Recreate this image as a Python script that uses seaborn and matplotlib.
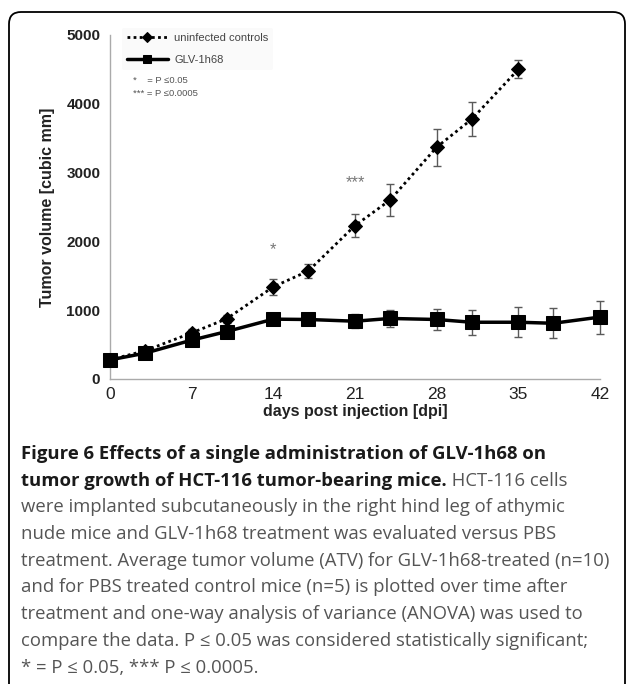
import matplotlib
matplotlib.use('Agg')
import matplotlib.pyplot as plt
from matplotlib.patches import FancyBboxPatch
import seaborn as sns

# values (mean tumor volume, cubic mm, +/- error)
ctrl_days = [0, 3, 7, 10, 14, 17, 21, 24, 28, 31, 35]
ctrl_vol = [280, 410, 670, 875, 1340, 1570, 2230, 2600, 3370, 3775, 4500]
ctrl_err = [30, 40, 50, 60, 120, 105, 165, 230, 270, 245, 130]

glv_days = [0, 3, 7, 10, 14, 17, 21, 24, 28, 31, 35, 38, 42]
glv_vol = [278, 375, 565, 690, 870, 865, 840, 880, 865, 825, 825, 810, 900]
glv_err = [30, 40, 50, 60, 70, 60, 100, 130, 155, 180, 220, 220, 240]

sig_labels = ['*', '***']
sig_days = [14, 21]
sig_vol = [1880, 2850]

x_ticks = [0, 7, 14, 21, 28, 35, 42]
y_ticks = [0, 1000, 2000, 3000, 4000, 5000]

series_names = ['uninfected controls', 'GLV-1h68']
legend_notes = ['*    = P \u22640.05', '*** = P \u22640.0005']

caption_bold = ['Figure 6 Effects of a single administration of GLV-1h68 on',
                'tumor growth of HCT-116 tumor-bearing mice.']
caption_plain = [' HCT-116 cells',
                 'were implanted subcutaneously in the right hind leg of athymic',
                 'nude mice and GLV-1h68 treatment was evaluated versus PBS',
                 'treatment. Average tumor volume (ATV) for GLV-1h68-treated (n=10)',
                 'and for PBS treated control mice (n=5) is plotted over time after',
                 'treatment and one-way analysis of variance (ANOVA) was used to',
                 'compare the data. P \u2264 0.05 was considered statistically significant;',
                 '* = P \u2264 0.05, *** P \u2264 0.0005.']

sns.set_style('white')
plt.rcParams['font.family'] = ['Liberation Sans', 'DejaVu Sans']

W, H = 629, 684
fig = plt.figure(figsize=(W / 100, H / 100), dpi=100)

# plot area in pixels: x 110..600, y(0)=379, y(5000)=35
ax = fig.add_axes([110 / W, (H - 379) / H, 490 / W, (379 - 35) / H])

ax.errorbar(ctrl_days, ctrl_vol, yerr=ctrl_err, fmt='none', ecolor='#5a5a5a',
            elinewidth=1, capsize=3, capthick=1, zorder=1, clip_on=False)
ax.errorbar(glv_days, glv_vol, yerr=glv_err, fmt='none', ecolor='#5a5a5a',
            elinewidth=1, capsize=3, capthick=1, zorder=1, clip_on=False)

sns.lineplot(x=ctrl_days, y=ctrl_vol, ax=ax, color='black', linewidth=2,
             linestyle=(0, (1, 1.2)), marker='D', markersize=7.5,
             markeredgecolor='black', label=series_names[0], zorder=3, clip_on=False)
sns.lineplot(x=glv_days, y=glv_vol, ax=ax, color='black', linewidth=2.5,
             marker='s', markersize=9.5, markeredgecolor='black',
             label=series_names[1], zorder=4, clip_on=False)

for lab, d, v in zip(sig_labels, sig_days, sig_vol):
    ax.text(d, v, lab, ha='center', va='center', fontsize=12, color='#777777')

ax.set_xlim(0, 42)
ax.set_ylim(0, 5000)
ax.set_xticks(x_ticks)
ax.set_yticks(y_ticks)
ax.set_xticklabels([str(t) for t in x_ticks],
                   family=['Liberation Sans Narrow', 'Liberation Sans'], fontsize=12.5)
ax.set_yticklabels([str(t) for t in y_ticks], fontweight='bold', fontsize=11)
ax.tick_params(axis='both', direction='out', length=4, width=1, color='#aaaaaa',
               labelcolor='#222222', pad=2)
ax.tick_params(axis='y', pad=3)
for side in ['top', 'right']:
    ax.spines[side].set_visible(False)
for side in ['left', 'bottom']:
    ax.spines[side].set_color('#aaaaaa')
    ax.spines[side].set_linewidth(1)
ax.set_xlabel('days post injection [dpi]', fontweight='bold', fontsize=11.5,
              color='#222222', labelpad=1)
ax.set_ylabel('Tumor volume [cubic mm]', fontweight='bold', fontsize=11.5,
              color='#222222', labelpad=8)

leg = ax.legend(loc='upper left', bbox_to_anchor=(0.025, 1.02), fontsize=8,
                handlelength=3.7, handletextpad=0.6, labelspacing=1.15,
                markerscale=0.65, frameon=True, facecolor='#fafafa',
                edgecolor='none', framealpha=1, borderaxespad=0,
                labelcolor='#444444')
for i, note in enumerate(legend_notes):
    ax.text(0.047, 0.869 - i * 0.038, note, transform=ax.transAxes, fontsize=6.8,
            color='#555555', va='center')

# rounded frame round the figure, open at the bottom
frame = FancyBboxPatch((0.09, -0.5), 6.16, 6.72 + 0.5,
                       boxstyle='round,pad=0,rounding_size=0.12',
                       transform=fig.dpi_scale_trans, fill=False,
                       edgecolor='black', linewidth=1.3)
fig.add_artist(frame)

# caption
cap_x = 21 / W
line0 = 454
step = 26.7
cap_size = 13.3
cap_font = ['Open Sans', 'DejaVu Sans']
fig.canvas.draw()
renderer = fig.canvas.get_renderer()
for i in range(len(caption_bold)):
    t = fig.text(cap_x, 1 - (line0 + i * step) / H, caption_bold[i], family=cap_font,
                 fontweight='bold', fontsize=cap_size, color='#1a1a1a', va='center')
    if i == 1:
        bb = t.get_window_extent(renderer)
        fig.text(bb.x1 / W, 1 - (line0 + i * step) / H, caption_plain[0], family=cap_font,
                 fontsize=cap_size, color='#555555', va='center')
for j, txt in enumerate(caption_plain[1:]):
    i = j + 2
    fig.text(cap_x, 1 - (line0 + i * step) / H, txt, family=cap_font,
             fontsize=cap_size, color='#555555', va='center')

fig.savefig('out.png', dpi=100)
